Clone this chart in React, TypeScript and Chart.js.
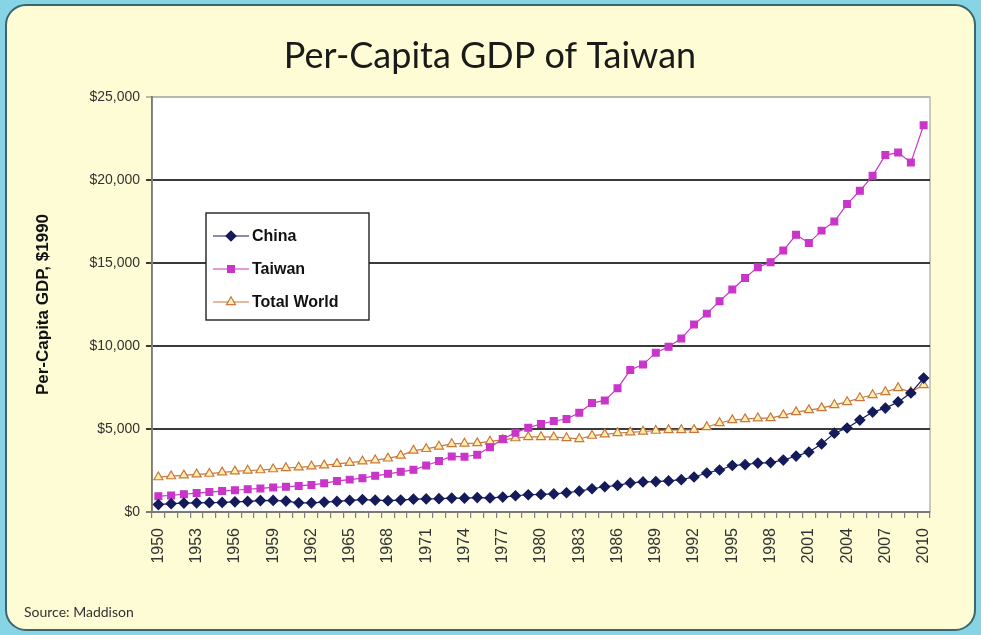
import React, { useEffect, useRef } from 'react';
import { Chart, registerables } from 'chart.js';
import { drawPoint } from 'chart.js/helpers';

Chart.register(...registerables);

const TITLE = 'Per-Capita GDP of Taiwan';
const Y_TITLE = 'Per-Capita GDP, $1990';
const SOURCE = 'Source: Maddison';

const YEARS = [
  '1950', '1951', '1952', '1953', '1954', '1955', '1956', '1957', '1958', '1959',
  '1960', '1961', '1962', '1963', '1964', '1965', '1966', '1967', '1968', '1969',
  '1970', '1971', '1972', '1973', '1974', '1975', '1976', '1977', '1978', '1979',
  '1980', '1981', '1982', '1983', '1984', '1985', '1986', '1987', '1988', '1989',
  '1990', '1991', '1992', '1993', '1994', '1995', '1996', '1997', '1998', '1999',
  '2000', '2001', '2002', '2003', '2004', '2005', '2006', '2007', '2008', '2009', '2010',
];

const TICK_YEARS = [
  '1950', '1953', '1956', '1959', '1962', '1965', '1968', '1971', '1974', '1977', '1980',
  '1983', '1986', '1989', '1992', '1995', '1998', '2001', '2004', '2007', '2010',
];

const CHINA = [
  450, 500, 540, 550, 560, 575, 610, 640, 690, 700,
  660, 550, 550, 600, 640, 700, 750, 710, 680, 720,
  770, 790, 800, 830, 830, 870, 850, 900, 980, 1040,
  1060, 1090, 1160, 1260, 1400, 1520, 1600, 1750, 1810, 1830,
  1870, 1950, 2110, 2350, 2530, 2800, 2850, 2950, 2980, 3130,
  3370, 3610, 4100, 4750, 5060, 5540, 6020, 6260, 6630, 7170, 8070,
];

const TAIWAN = [
  950, 1000, 1070, 1140, 1200, 1260, 1310, 1370, 1420, 1480,
  1520, 1570, 1630, 1730, 1870, 1950, 2040, 2180, 2300, 2420,
  2540, 2800, 3070, 3350, 3330, 3450, 3900, 4400, 4780, 5080,
  5300, 5480, 5600, 5980, 6560, 6720, 7450, 8550, 8880, 9600,
  9950, 10450, 11300, 11950, 12700, 13400, 14100, 14750, 15050, 15750,
  16700, 16200, 16950, 17500, 18550, 19350, 20250, 21500, 21650, 21050, 23300,
];

const WORLD = [
  2100, 2160, 2210, 2270, 2310, 2390, 2450, 2500, 2520, 2580,
  2650, 2690, 2750, 2810, 2900, 2970, 3050, 3120, 3230, 3400,
  3700, 3800, 3950, 4100, 4130, 4150, 4250, 4340, 4450, 4520,
  4520, 4510, 4460, 4400, 4600, 4680, 4760, 4800, 4850, 4900,
  4940, 4940, 4950, 5120, 5360, 5540, 5600, 5650, 5660, 5840,
  6020, 6140, 6260, 6450, 6630, 6870, 7050, 7230, 7470, 7230, 7650,
];

const Y_MIN = 0;
const Y_MAX = 25000;
const Y_STEP = 5000;

const SERIES = [
  { label: 'China', data: CHINA, color: '#141a5a', fill: '#141a5a', style: 'rectRot', radius: 5 },
  { label: 'Taiwan', data: TAIWAN, color: '#c935c9', fill: '#c935c9', style: 'rect', radius: 4.8 },
  { label: 'Total World', data: WORLD, color: '#c8773e', fill: '#fff0b0', style: 'triangle', radius: 5.2 },
];

const framePlugin = {
  id: 'frame',
  beforeDraw(chart: any) {
    const { ctx, width, height, chartArea } = chart;
    ctx.save();
    ctx.fillStyle = '#86d4e4';
    ctx.fillRect(0, 0, width, height);
    ctx.beginPath();
    ctx.roundRect(6, 5, width - 12, height - 10, 20);
    ctx.fillStyle = '#fefcd4';
    ctx.fill();
    ctx.lineWidth = 2;
    ctx.strokeStyle = '#3b666c';
    ctx.stroke();
    ctx.fillStyle = '#ffffff';
    ctx.fillRect(chartArea.left, chartArea.top, chartArea.right - chartArea.left, chartArea.bottom - chartArea.top);
    ctx.strokeStyle = '#b9b9ab';
    ctx.lineWidth = 1.5;
    ctx.strokeRect(chartArea.left, chartArea.top, chartArea.right - chartArea.left, chartArea.bottom - chartArea.top);
    // title
    ctx.fillStyle = '#1a1a1a';
    ctx.font = '36px Lato, "Open Sans", sans-serif';
    ctx.textAlign = 'center';
    ctx.textBaseline = 'middle';
    ctx.fillText(TITLE, 490, 56);
    ctx.restore();
  },
  afterDraw(chart: any) {
    const { ctx, height } = chart;
    ctx.save();
    // legend box
    const bx = 206, by = 213, bw = 163, bh = 107;
    ctx.fillStyle = '#ffffff';
    ctx.fillRect(bx, by, bw, bh);
    ctx.strokeStyle = '#222222';
    ctx.lineWidth = 1.4;
    ctx.strokeRect(bx, by, bw, bh);
    SERIES.forEach((s, i) => {
      const y = by + 23 + i * 33;
      ctx.strokeStyle = s.color;
      ctx.lineWidth = 1.2;
      ctx.beginPath();
      ctx.moveTo(bx + 7, y);
      ctx.lineTo(bx + 43, y);
      ctx.stroke();
      ctx.fillStyle = s.fill;
      ctx.strokeStyle = s.color;
      drawPoint(ctx, { pointStyle: s.style as any, radius: s.radius, borderWidth: 1, rotation: 0 }, bx + 25, y);
      ctx.fillStyle = '#111111';
      ctx.font = 'bold 16px "Liberation Sans", Arial, sans-serif';
      ctx.textBaseline = 'middle';
      ctx.textAlign = 'left';
      ctx.fillText(s.label, bx + 46, y + 1);
    });
    // source
    ctx.fillStyle = '#333333';
    ctx.font = '14px Lato, "Open Sans", sans-serif';
    ctx.textBaseline = 'alphabetic';
    ctx.fillText(SOURCE, 24, height - 18);
    ctx.restore();
  },
};

export default function App() {
  const ref = useRef<HTMLCanvasElement>(null);
  useEffect(() => {
    if (!ref.current) return;
    const chart = new Chart(ref.current, {
      type: 'line',
      data: {
        labels: YEARS,
        datasets: SERIES.map((s) => ({
          label: s.label,
          data: s.data,
          borderColor: s.color,
          backgroundColor: s.fill,
          pointBackgroundColor: s.fill,
          pointBorderColor: s.color,
          pointStyle: s.style as any,
          pointRadius: s.radius,
          pointBorderWidth: 1.2,
          borderWidth: 1.2,
          tension: 0,
          fill: false,
        })),
      },
      options: {
        responsive: false,
        animation: false,
        events: [],
        layout: { padding: { left: 18, right: 51, top: 97, bottom: 0 } },
        plugins: {
          legend: { display: false },
          tooltip: { enabled: false },
          title: { display: false },
        },
        scales: {
          x: {
            type: 'category',
            offset: true,
            grid: {
              offset: true,
              drawOnChartArea: false,
              drawTicks: true,
              tickLength: 6,
              color: '#808080',
              lineWidth: 1.2,
            },
            border: { display: true, color: '#7a7a7a', width: 1.8 },
            ticks: {
              autoSkip: false,
              maxRotation: 90,
              minRotation: 90,
              padding: 10,
              color: '#333333',
              font: { family: '"Liberation Sans", Arial, sans-serif', size: 16 },
              callback: (_v: any, i: number) => (TICK_YEARS.includes(YEARS[i]) ? YEARS[i] : ''),
            },
            afterFit: (scale: any) => { scale.height = 123; },
          },
          y: {
            min: Y_MIN,
            max: Y_MAX,
            ticks: {
              stepSize: Y_STEP,
              padding: 6,
              color: '#333333',
              font: { family: '"Liberation Sans", Arial, sans-serif', size: 14 },
              callback: (v: any) => '$' + Number(v).toLocaleString('en-US'),
            },
            grid: {
              drawTicks: true,
              tickLength: 6,
              color: (c: any) => (c.tick && c.tick.value === Y_MAX ? '#b9b9ab' : c.tick && c.tick.value === 0 ? '#7a7a7a' : '#3a3a3a'),
              lineWidth: 2,
            },
            border: { display: true, color: '#7a7a7a', width: 1.8 },
            title: {
              display: true,
              text: Y_TITLE,
              color: '#111111',
              font: { family: '"Liberation Sans", Arial, sans-serif', size: 17, weight: 'bold' },
              padding: { top: 15, bottom: 0 },
            },
            afterFit: (scale: any) => { scale.width = 134; },
          },
        },
      },
      plugins: [framePlugin],
    });
    return () => chart.destroy();
  }, []);
  return (
    <div style={{ position: 'absolute', left: 0, top: 0, width: 981, height: 635 }}>
      <canvas ref={ref} width={981} height={635} style={{ width: 981, height: 635, display: 'block' }} />
    </div>
  );
}
